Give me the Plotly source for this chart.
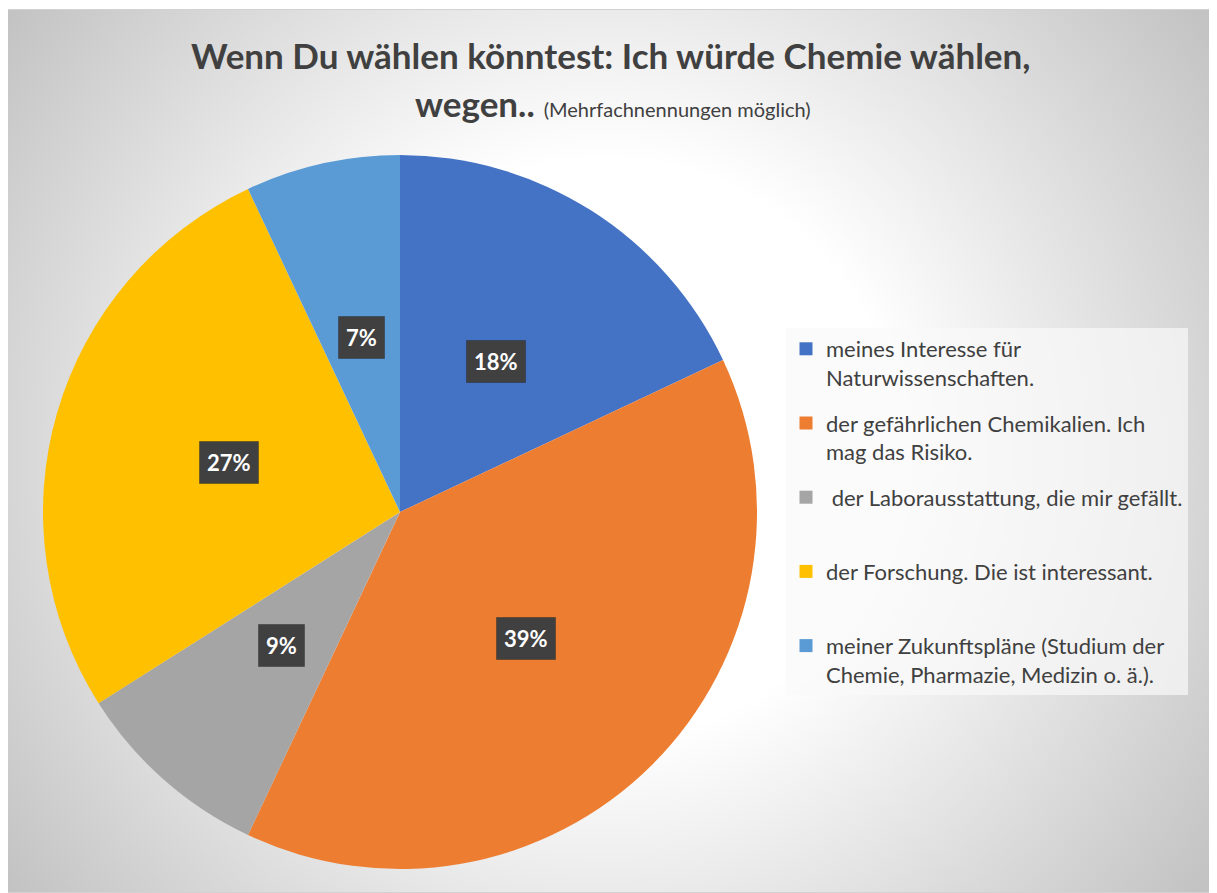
import base64
import math
import plotly.graph_objects as go

# ---- data ----
labels = [
    "meines Interesse für<br>Naturwissenschaften.",
    "der gefährlichen Chemikalien. Ich<br>mag das Risiko.",
    " der Laborausstattung, die mir gefällt.",
    "der Forschung. Die ist interessant.",
    "meiner Zukunftspläne (Studium der<br>Chemie, Pharmazie, Medizin o. ä.).",
]
values = [18, 39, 9, 27, 7]
colors = ["#4472C4", "#ED7D31", "#A5A5A5", "#FFC000", "#5B9BD5"]

title_line1 = "Wenn Du wählen könntest: Ich würde Chemie wählen,"
title_line2_bold = "wegen.."
title_line2_small = "(Mehrfachnennungen möglich)"

# ---- geometry / style ----
OFF = 8                      # page body margin of the html page
W, H = 1217, 893             # screenshot size
FW, FH = W - OFF, H - OFF    # figure size
CX, CY, R = 400, 512, 357    # pie centre / radius in screenshot pixels
FONT = "Lato"
TXT = "#404040"


def X(px):
    return (px - OFF) / FW


def Y(py):
    return 1 - (py - OFF) / FH


fig = go.Figure()
fig.add_trace(go.Pie(
    labels=[l.replace("<br>", " ") for l in labels], values=values, sort=False,
    direction="clockwise", rotation=0,
    marker=dict(colors=colors, line=dict(width=0)),
    textinfo="none", hoverinfo="label+percent", showlegend=False,
    domain=dict(x=[X(CX - R), X(CX + R)], y=[Y(CY + R), Y(CY - R)]),
))

# legend entries (one per slice, same colours and labels)
for i, (lab, col) in enumerate(zip(labels, colors)):
    text = lab if "<br>" in lab else lab + "<br>\u00a0"
    fig.add_trace(go.Scatter(
        x=[None], y=[None], mode="markers", name=text, legendgroup=f"g{i}",
        marker=dict(symbol="square", size=13, color=col), hoverinfo="skip",
    ))

# data labels placed at the slice mid-angle, half radius
total = sum(values)
cum = 0
annotations = []
for v in values:
    theta = 2 * math.pi * (cum + v / 2) / total
    cum += v
    px = CX + 0.5 * R * math.sin(theta)
    py = CY - 0.5 * R * math.cos(theta)
    txt = f"<b>{round(100 * v / total)}%</b>"
    annotations.append(dict(text=txt, x=X(px), y=Y(py), xref="paper", yref="paper", showarrow=False,
                            xanchor="center", yanchor="middle", borderpad=7,
                            bordercolor="rgba(30,30,30,0.35)", borderwidth=1,
                            font=dict(family=FONT, size=22, color="white"), bgcolor="#404040"))

annotations.append(dict(text=f"<b>{title_line1}</b>", x=X(611), y=Y(55), xref="paper", yref="paper",
                        showarrow=False, xanchor="center", yanchor="middle",
                        font=dict(family=FONT, size=35, color=TXT)))
annotations.append(dict(text=f"<b>{title_line2_bold}</b> <span style='font-size:20px'>{title_line2_small}</span>",
                        x=X(613), y=Y(103), xref="paper", yref="paper",
                        showarrow=False, xanchor="center", yanchor="middle",
                        font=dict(family=FONT, size=35, color=TXT)))

BW, BH = W - 6, H - 9
svg = (
    f"<svg xmlns='http://www.w3.org/2000/svg' width='{BW}' height='{BH}' viewBox='0 0 {BW} {BH}' preserveAspectRatio='none'>"
    "<defs><radialGradient id='g' gradientUnits='userSpaceOnUse' cx='600' cy='440' r='760'>"
    "<stop offset='0' stop-color='#ffffff'/><stop offset='0.38' stop-color='#ffffff'/>"
    "<stop offset='1' stop-color='#c0c0c0'/></radialGradient></defs>"
    f"<rect x='0.5' y='0.5' width='{BW - 1}' height='{BH - 1}' fill='url(#g)' stroke='#d2d2d2' stroke-width='1'/></svg>"
)
src = "data:image/svg+xml;base64," + base64.b64encode(svg.encode()).decode()

fig.update_layout(
    width=FW, height=FH, autosize=False,
    margin=dict(l=0, r=0, t=0, b=0),
    paper_bgcolor="white", plot_bgcolor="rgba(0,0,0,0)",
    xaxis=dict(visible=False), yaxis=dict(visible=False),
    images=[dict(source=src, xref="paper", yref="paper", x=X(6), y=Y(9),
                 sizex=BW / FW, sizey=BH / FH, sizing="stretch", layer="below",
                 xanchor="left", yanchor="top")],
    showlegend=True,
    legend=dict(x=X(786), y=Y(328), xanchor="left", yanchor="top",
                bgcolor="rgba(250,250,250,0.7)", font=dict(family=FONT, size=22, color=TXT),
                valign="top", itemwidth=30, traceorder="grouped", tracegroupgap=14),
    annotations=annotations,
)

fig.write_html("out.html")
